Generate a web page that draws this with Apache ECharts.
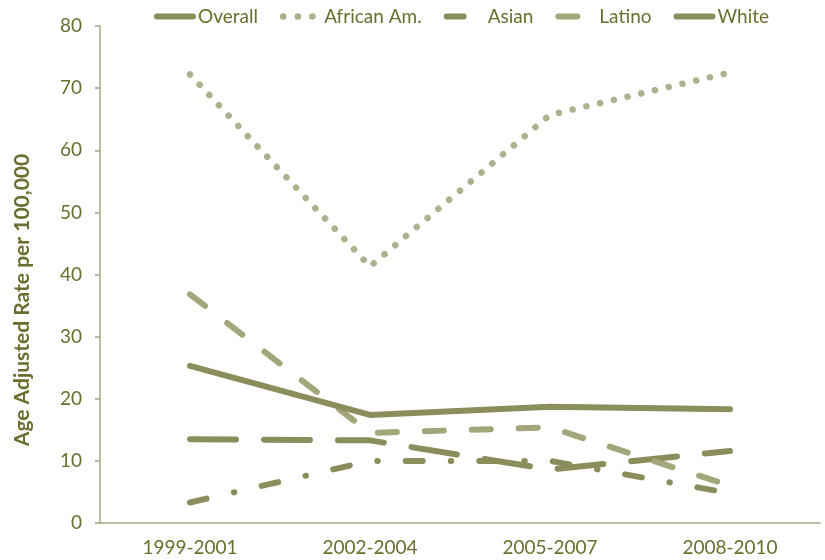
<!DOCTYPE html>
<html><head><meta charset="utf-8">
<script src="https://cdn.jsdelivr.net/npm/echarts@6/dist/echarts.min.js"></script>
<style>html,body{margin:0;padding:0;background:#fff}#c{width:825px;height:560px}</style>
</head><body><div id="c"></div>
<script>
const categories = ['1999-2001', '2002-2004', '2005-2007', '2008-2010'];
const overall   = [25.3, 17.4, 18.7, 18.3];
const africanAm = [72.2, 41.3, 65.7, 72.5];
const asian     = [3.3, 10.0, 10.0, 4.8];
const latino    = [36.8, 14.5, 15.4, 6.0];
const white     = [13.5, 13.3, 8.6, 11.6];
const yMin = 0, yMax = 80, yStep = 10;
const yTitle = 'Age Adjusted Rate per 100,000';
const legendNames = ['Overall', 'African Am.', 'Asian', 'Latino', 'White'];

const DARK = '#8b8d5b', LIGHT = '#a3a57a', DOT = '#aeb08e';
const TEXT = '#6b6e2e';
const AXIS = '#a4a684';
const FONT = 'Lato';

function mk(name, data, color, type, width) {
  return {
    name, type: 'line', data, symbol: 'none', silent: true,
    lineStyle: { color, width: width || 6, type, cap: 'round', join: 'round' },
    itemStyle: { color }
  };
}

const chart = echarts.init(document.getElementById('c'), null, { renderer: 'canvas' });
chart.setOption({
  animation: false,
  backgroundColor: '#fff',
  grid: { left: 100, right: 5, top: 26, bottom: 37, containLabel: false },
  legend: {
    left: 154, top: 7, padding: 0,
    itemWidth: 36, itemHeight: 20, itemGap: 22, itemTextGap: 2,
    itemStyle: { opacity: 0 },
    lineStyle: { width: 6, cap: 'round' },
    textStyle: { color: TEXT, fontFamily: FONT, fontSize: 19 },
    data: legendNames.map(n => n === 'African Am.'
      ? { name: n, lineStyle: { type: [0.1, 14.5], width: 6.5, cap: 'round' } }
      : { name: n })
  },
  xAxis: {
    type: 'category', data: categories, boundaryGap: true,
    axisLine: { lineStyle: { color: AXIS, width: 1.5 } },
    axisTick: { show: false },
    axisLabel: { color: TEXT, fontFamily: FONT, fontSize: 19, margin: 15 }
  },
  yAxis: {
    type: 'value', min: yMin, max: yMax, interval: yStep,
    axisLine: { show: true, lineStyle: { color: AXIS, width: 1.5 } },
    axisTick: { show: true, length: 5, lineStyle: { color: AXIS, width: 1.5 } },
    splitLine: { show: false },
    axisLabel: { color: TEXT, fontFamily: FONT, fontSize: 19, margin: 18 }
  },
  graphic: [{
    type: 'text', x: 22, y: 300, rotation: Math.PI / 2,
    style: { text: yTitle, fill: TEXT, font: 'bold 21px ' + FONT, align: 'center', verticalAlign: 'middle' }
  }],
  series: [
    mk('White', white, DARK, [46, 28]),
    mk('Asian', asian, DARK, [17, 28, 0.5, 28]),
    mk('Latino', latino, LIGHT, [19, 28]),
    mk('African Am.', africanAm, DOT, [0.1, 14], 6.5),
    mk('Overall', overall, DARK, 'solid')
  ]
});
</script>
</body></html>
